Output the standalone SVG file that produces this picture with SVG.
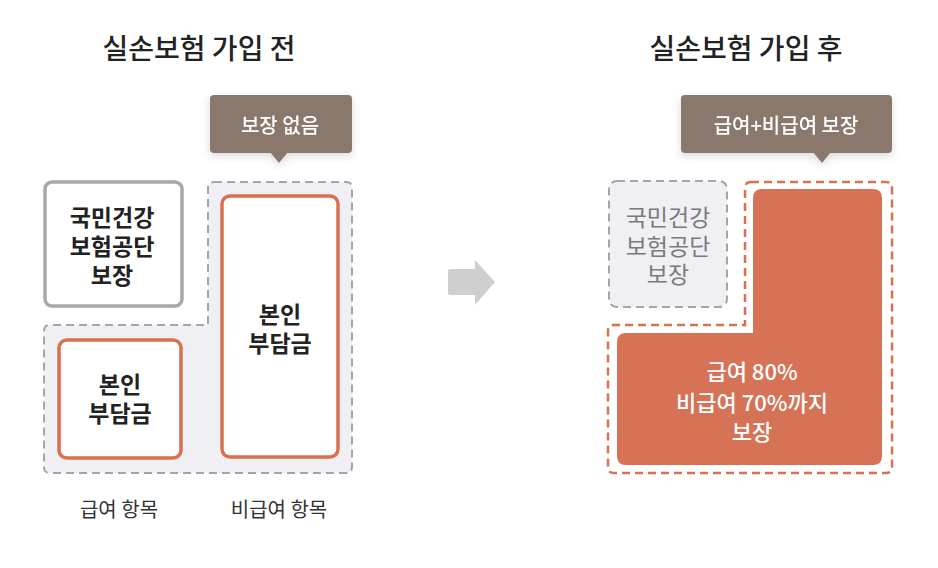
<svg xmlns="http://www.w3.org/2000/svg" width="938" height="568" viewBox="0 0 938 568">
<defs>
<filter id="sh" x="-20%" y="-30%" width="140%" height="170%">
<feDropShadow dx="0" dy="3" stdDeviation="4" flood-color="#000" flood-opacity="0.15"/>
</filter>
</defs>
<style>
text{font-family:"Noto Sans CJK KR","Noto Sans",sans-serif;text-anchor:middle;dominant-baseline:central}
.title{font-size:28px;fill:#222;font-weight:500}
.tip{fill:#8b786c}
.tipt{font-size:20px;fill:#fff;font-weight:500}
.bold{font-size:23px;font-weight:700;fill:#222}
.lab{font-size:20px;fill:#333}
.gray{font-size:23px;fill:#7a7a7a}
.white{font-size:22px;fill:#fff;font-weight:500}
.gdash{fill:#efeff4;stroke:#a5a5a8;stroke-width:2;stroke-dasharray:8 5}
.odash{fill:#fff;stroke:#d9714f;stroke-width:2.5;stroke-dasharray:8 5}
.obox{fill:#fff;stroke:#d9714f;stroke-width:3.5}
</style>
<rect width="938" height="568" fill="#fff"/>

<g id="title-before"><text class="title" x="199" y="47">실손보험 가입 전</text></g>
<g id="title-after"><text class="title" x="746" y="47">실손보험 가입 후</text></g>

<g id="tip-before" filter="url(#sh)">
<rect class="tip" x="210" y="95" width="142" height="58" rx="4"/>
<path class="tip" d="M270,152 L279,163 L288,152 Z"/>
<text class="tipt" x="280" y="124">보장 없음</text>
</g>

<g id="region-before">
<path class="gdash" d="M214,182 H346 Q352,182 352,188 V467 Q352,473 346,473 H50 Q44,473 44,467 V331 Q44,325 50,325 H208 V188 Q208,182 214,182 Z"/>
</g>

<g id="nhis-before">
<rect x="45" y="182" width="137" height="124" rx="7" fill="#fff" stroke="#a8a8a8" stroke-width="3.5"/>
<text class="bold" x="112" y="216"><tspan x="112" y="216">국민건강</tspan><tspan x="112" y="245">보험공단</tspan><tspan x="112" y="274">보장</tspan></text>
</g>

<g id="self-covered">
<rect class="obox" x="59" y="340" width="122" height="118" rx="8"/>
<text class="bold" x="120" y="383"><tspan x="120" y="383">본인</tspan><tspan x="120" y="412">부담금</tspan></text>
</g>

<g id="self-noncovered">
<rect class="obox" x="222" y="196" width="116" height="261" rx="8"/>
<text class="bold" x="280" y="313"><tspan x="280" y="313">본인</tspan><tspan x="280" y="342">부담금</tspan></text>
</g>

<g id="labels">
<text class="lab" x="119" y="508">급여 항목</text>
<text class="lab" x="279" y="508">비급여 항목</text>
</g>

<g id="arrow">
<path d="M450,269 H475 V260 L495,282 L475,305 V295 H450 Q448,295 448,293 V271 Q448,269 450,269 Z" fill="#cfcfcf"/>
</g>

<g id="tip-after" filter="url(#sh)">
<rect class="tip" x="681" y="95" width="211" height="58" rx="4"/>
<path class="tip" d="M813,152 L822,163 L831,152 Z"/>
<text class="tipt" x="786" y="124">급여+비급여 보장</text>
</g>

<g id="nhis-after">
<rect class="gdash" x="609" y="181" width="118" height="126" rx="8"/>
<text class="gray" x="668" y="216"><tspan x="668" y="216">국민건강</tspan><tspan x="668" y="245">보험공단</tspan><tspan x="668" y="273">보장</tspan></text>
</g>

<g id="coverage-after">
<path class="odash" d="M751,182 H886 Q892,182 892,188 V467 Q892,473 886,473 H614 Q608,473 608,467 V331 Q608,325 614,325 H745 V188 Q745,182 751,182 Z"/>
<path d="M762,189 H873 Q882,189 882,198 V456 Q882,465 873,465 H626 Q617,465 617,456 V342 Q617,333 626,333 H753 V198 Q753,189 762,189 Z" fill="#d67357"/>
<text class="white" x="752" y="370"><tspan x="752" y="370">급여 80%</tspan><tspan x="752" y="401">비급여 70%까지</tspan><tspan x="752" y="430">보장</tspan></text>
</g>
</svg>
